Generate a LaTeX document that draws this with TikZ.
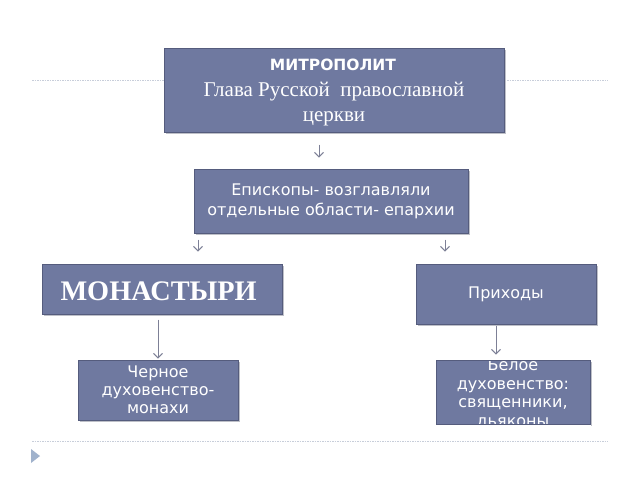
\documentclass[tikz,border=0pt]{standalone}
\usepackage{fontspec}
\setmainfont{DejaVu Sans}
\newfontfamily\seriffont{Liberation Serif}
\usetikzlibrary{arrows.meta}
\definecolor{boxfill}{RGB}{111,121,160}
\definecolor{boxedge}{RGB}{85,92,125}
\definecolor{shadowc}{RGB}{190,192,200}
\definecolor{sepc}{RGB}{200,206,218}
\definecolor{arrc}{RGB}{125,128,150}
\definecolor{tric}{RGB}{160,178,204}
\tikzset{
  box/.style={fill=boxfill, draw=boxedge, line width=1pt, text=white, align=center, inner sep=0pt},
  arr/.style={draw=arrc, line width=0.9pt, -{Straight Barb[length=4.5pt,width=9pt,line width=0.9pt]}},
  sep/.style={draw=sepc, line width=0.8pt, dash pattern=on 1.5pt off 1pt},
  body/.style={font=\fontsize{16}{19}\selectfont}
}
\begin{document}
\begin{tikzpicture}[x=1pt,y=-1pt]
\useasboundingbox (0,0) rectangle (640,480);
\fill[white] (0,0) rectangle (640,480);
% separators
\draw[sep] (32,80) -- (608,80);
\draw[sep] (32,441) -- (608,441);
\fill[tric] (31,449) -- (40,456) -- (31,463) -- cycle;
% shadows
\fill[shadowc] (166,50) rectangle (506,134);
\fill[shadowc] (196,171) rectangle (470,235);
\fill[shadowc] (44,266) rectangle (284,316);
\fill[shadowc] (418,266) rectangle (598,326);
\fill[shadowc] (80,362) rectangle (240,422);
\fill[shadowc] (438,362) rectangle (592,426);
% boxes
\node[box, minimum width=340pt, minimum height=84pt] (metro) at (334,90) {};
\node[text=white, font=\bfseries\fontsize{15.5}{18}\selectfont] (metrotitle) at (333,65) {МИТРОПОЛИТ};
\node[text=white, align=center, font=\seriffont\fontsize{21}{25}\selectfont] (metrotxt) at (334,104)
  {Глава Русской \ православной\\ церкви};
\node[box, minimum width=274pt, minimum height=64pt, font=\fontsize{16}{20}\selectfont] (episk) at (331,201)
  {Епископы- возглавляли\\ отдельные области- епархии};
\node[box, minimum width=240pt, minimum height=50pt] (monas) at (162,289) {};
\node[text=white, anchor=west, font=\seriffont\bfseries\fontsize{28.3}{30}\selectfont] (monastxt) at (57,291) {МОНАСТЫРИ};
\node[box, body, minimum width=180pt, minimum height=60pt] (prikh) at (506,294) {\raisebox{-3pt}{Приходы}};
\node[box, minimum width=160pt, minimum height=60pt, font=\fontsize{16}{18}\selectfont] (chern) at (158,390)
  {Черное\\ духовенство-\\ монахи};
\fill[boxfill] (436,360) rectangle (590,424);
\node[text=white, align=center, font=\fontsize{16}{18.5}\selectfont] (belotxt) at (513,394)
  {Белое\\ духовенство:\\ священники,\\ дьяконы};
\fill[white] (430,340) rectangle (596,359.5);
\fill[white] (430,424.5) rectangle (596,440);
\fill[shadowc] (590.5,362) rectangle (592,426);
\node[draw=boxedge, line width=1pt, minimum width=154pt, minimum height=64pt, inner sep=0pt] (beloe) at (513,392) {};
% connectors
\draw[arr, shorten <=12pt, shorten >=11pt] ([xshift=-15pt]metro.south) -- ([xshift=-12pt]episk.north);
\draw[arr, shorten <=6pt, shorten >=12pt] ([xshift=-133pt]episk.south) -- ([xshift=36pt]monas.north);
\draw[arr, shorten <=6pt, shorten >=12pt] ([xshift=114pt]episk.south) -- ([xshift=-61pt]prikh.north);
\draw[arr, shorten <=5pt, shorten >=1pt] ([xshift=-4pt]monas.south) -- (chern.north);
\draw[arr, shorten <=1pt, shorten >=5pt] ([xshift=-10pt]prikh.south) -- ([xshift=-17pt]beloe.north);
\end{tikzpicture}
\end{document}
